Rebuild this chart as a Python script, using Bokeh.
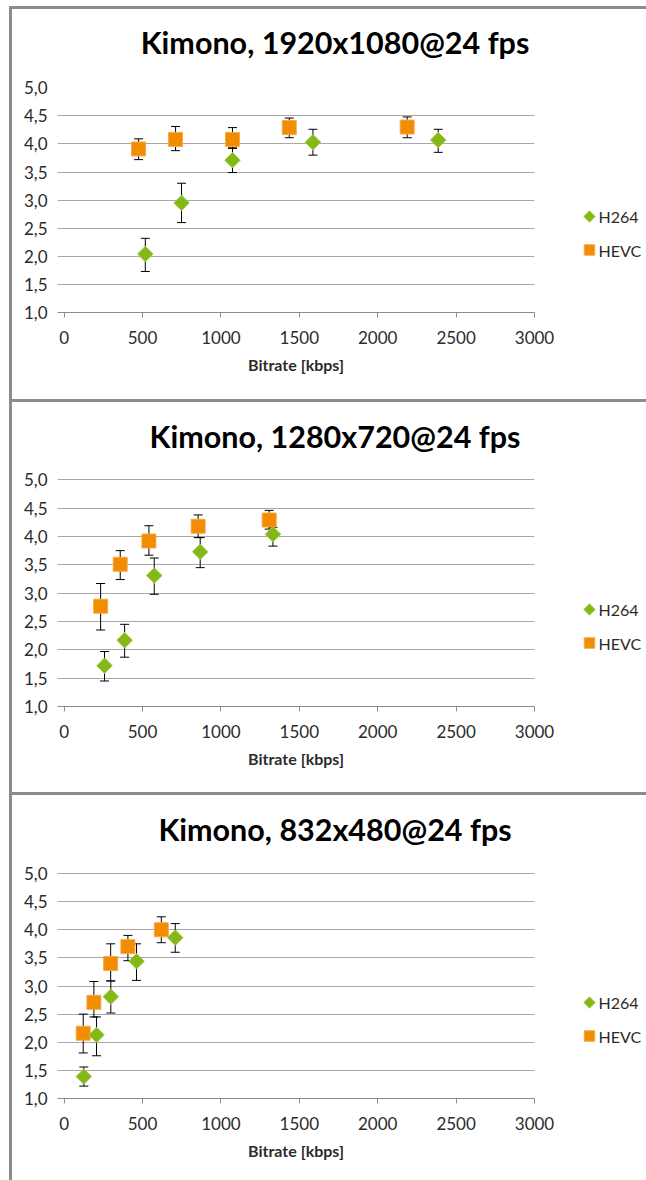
import numpy as np
from bokeh.plotting import figure
from bokeh.layouts import column, row
from bokeh.models import (ColumnDataSource, Range1d, FixedTicker, CustomJSTickFormatter,
                          Whisker, TeeHead, Label, Spacer)
from bokeh.embed import file_html
from bokeh.resources import INLINE

# ---------------- data ----------------
titles = ["Kimono, 1920x1080@24 fps", "Kimono, 1280x720@24 fps", "Kimono, 832x480@24 fps"]
series_names = ["H264", "HEVC"]
x_ticks = [0, 500, 1000, 1500, 2000, 2500, 3000]
y_ticks = [1.0, 1.5, 2.0, 2.5, 3.0, 3.5, 4.0, 4.5, 5.0]
x_label = "Bitrate [kbps]"

# 1920x1080
h264_1080_rate = [518, 749, 1074, 1587, 2386]
h264_1080_mos = [2.04, 2.95, 3.71, 4.03, 4.07]
h264_1080_lo = [1.73, 2.60, 3.49, 3.80, 3.85]
h264_1080_hi = [2.32, 3.30, 3.93, 4.26, 4.26]
hevc_1080_rate = [475, 711, 1074, 1436, 2188]
hevc_1080_mos = [3.91, 4.08, 4.08, 4.29, 4.30]
hevc_1080_lo = [3.72, 3.88, 3.92, 4.11, 4.11]
hevc_1080_hi = [4.09, 4.31, 4.29, 4.46, 4.48]

# 1280x720
h264_720_rate = [258, 386, 575, 868, 1332]
h264_720_mos = [1.72, 2.17, 3.31, 3.73, 4.04]
h264_720_lo = [1.45, 1.87, 2.98, 3.45, 3.83]
h264_720_hi = [1.97, 2.45, 3.62, 3.98, 4.16]
hevc_720_rate = [233, 358, 541, 855, 1308]
hevc_720_mos = [2.77, 3.51, 3.92, 4.18, 4.29]
hevc_720_lo = [2.35, 3.24, 3.67, 3.98, 4.13]
hevc_720_hi = [3.17, 3.75, 4.19, 4.38, 4.46]

# 832x480
h264_480_rate = [126, 207, 298, 462, 709]
h264_480_mos = [1.39, 2.13, 2.81, 3.44, 3.86]
h264_480_lo = [1.22, 1.76, 2.52, 3.10, 3.60]
h264_480_hi = [1.56, 2.45, 3.09, 3.75, 4.11]
hevc_480_rate = [122, 190, 297, 407, 620]
hevc_480_mos = [2.16, 2.71, 3.40, 3.70, 4.00]
hevc_480_lo = [1.81, 2.45, 3.09, 3.45, 3.77]
hevc_480_hi = [2.50, 3.08, 3.75, 3.90, 4.23]

# ---------------- style / layout ----------------
FONT = "Lato"
GREEN = "#84B816"
GREEN_EDGE = "#A0CB45"
ORANGE = "#F28C00"
ORANGE_EDGE = "#F7A94A"
GRID = "#a8a8a8"
AXIS = "#8c8c8c"
BORDER_COLOR = "#8c8c8c"
TEXT = "#2b2b2b"

CHART_W = 548          # chart canvas width (x 12..560)
LEGEND_W = 86          # legend canvas width (x 560..646)
LEFT = 45              # room for the y labels
RIGHT = 26             # room for the last x tick label
X_MIN = -42
LEG_MARK_X = 29
LEG_TEXT_X = 38
LEG_ROWS_Y = [207, 240.5]   # pixels below the canvas top


def make_chart(title, h_rate, h_mos, h_lo, h_hi, v_rate, v_mos, v_lo, v_hi,
               height, y5_px, y1_px, title_base_px, grid_ticks):
    frame_h = int(round(y1_px))
    px_per_y = (y1_px - y5_px) / 4.0
    y_top = 1.0 + frame_h / px_per_y

    p = figure(width=CHART_W, height=height,
               x_range=Range1d(X_MIN, 3000), y_range=Range1d(1, y_top),
               output_backend="svg", toolbar_location=None,
               min_border_left=LEFT, min_border_right=RIGHT,
               min_border_top=0, min_border_bottom=height - frame_h,
               outline_line_color=None, margin=0)

    p.xaxis.ticker = FixedTicker(ticks=x_ticks)
    p.xaxis.axis_label = x_label
    p.xaxis.axis_label_text_font = FONT
    p.xaxis.axis_label_text_font_style = "bold"
    p.xaxis.axis_label_text_font_size = "16px"
    p.xaxis.axis_label_text_color = TEXT
    p.xaxis.axis_label_standoff = 8
    p.xaxis.major_label_text_font = FONT
    p.xaxis.major_label_text_font_size = "17px"
    p.xaxis.major_label_text_color = TEXT
    p.xaxis.major_label_standoff = 13
    p.xaxis.axis_line_color = AXIS
    p.xaxis.major_tick_line_color = AXIS
    p.xaxis.major_tick_out = 5
    p.xaxis.major_tick_in = 0
    p.xaxis.minor_tick_line_color = None

    p.yaxis.ticker = FixedTicker(ticks=y_ticks)
    p.yaxis.formatter = CustomJSTickFormatter(code="return tick.toFixed(1).replace('.', ',');")
    p.yaxis.major_label_text_font = FONT
    p.yaxis.major_label_text_font_size = "17px"
    p.yaxis.major_label_text_color = TEXT
    p.yaxis.axis_line_color = None
    p.yaxis.major_tick_line_color = None
    p.yaxis.minor_tick_line_color = None
    p.yaxis.major_tick_out = 0
    p.yaxis.major_label_standoff = 10

    p.xgrid.visible = False
    p.ygrid.ticker = FixedTicker(ticks=grid_ticks)
    p.ygrid.grid_line_color = GRID
    p.ygrid.grid_line_width = 1

    src_h = ColumnDataSource(dict(x=h_rate, y=h_mos, lo=h_lo, hi=h_hi))
    src_v = ColumnDataSource(dict(x=v_rate, y=v_mos, lo=v_lo, hi=v_hi))

    for src in (src_v, src_h):
        p.add_layout(Whisker(source=src, base="x", lower="lo", upper="hi",
                             line_color="black", line_width=1,
                             upper_head=TeeHead(size=9, line_color="black", line_width=1),
                             lower_head=TeeHead(size=9, line_color="black", line_width=1)))

    p.scatter("x", "y", source=src_v, marker="square", size=14,
              fill_color=ORANGE, line_color=ORANGE_EDGE, line_width=1)
    p.scatter("x", "y", source=src_h, marker="square", angle=np.pi / 4, size=11,
              fill_color=GREEN, line_color=GREEN_EDGE, line_width=1)

    # title (middle of the text box sits ~0.387 em above the baseline)
    p.add_layout(Label(x=277.5, y=frame_h - (title_base_px - 11.8),
                       x_units="screen", y_units="screen",
                       text=title, text_font=FONT, text_font_style="bold",
                       text_font_size="30.5px", text_color="black",
                       text_align="center", text_baseline="middle"))
    return p, frame_h


def make_legend(height, frame_h):
    # the legend frame lines up with the chart frame (top at the canvas top)
    q = figure(width=LEGEND_W, height=height,
               x_range=Range1d(0, LEGEND_W), y_range=Range1d(frame_h, 0),
               x_axis_type=None, y_axis_type=None,
               output_backend="svg", toolbar_location=None,
               min_border_left=0, min_border_right=0, min_border_top=0,
               min_border_bottom=height - frame_h,
               outline_line_color=None, margin=0)
    q.xgrid.visible = False
    q.ygrid.visible = False
    q.scatter(x=[LEG_MARK_X], y=[LEG_ROWS_Y[0]], marker="square", angle=np.pi / 4, size=8,
              fill_color=GREEN, line_color=GREEN_EDGE, line_width=1)
    q.scatter(x=[LEG_MARK_X], y=[LEG_ROWS_Y[1]], marker="square", size=10.5,
              fill_color=ORANGE, line_color=ORANGE_EDGE, line_width=1)
    for name, yy in zip(series_names, LEG_ROWS_Y):
        q.add_layout(Label(x=LEG_TEXT_X, y=yy, text=name, text_font=FONT,
                           text_font_size="16px", text_color=TEXT,
                           text_align="left", text_baseline="middle"))
    return q


specs = [
    (titles[0], h264_1080_rate, h264_1080_mos, h264_1080_lo, h264_1080_hi,
     hevc_1080_rate, hevc_1080_mos, hevc_1080_lo, hevc_1080_hi,
     390, 77.9, 302.7, 44.3, [1.5, 2.0, 2.5, 3.0, 3.5, 4.0, 4.5]),
    (titles[1], h264_720_rate, h264_720_mos, h264_720_lo, h264_720_hi,
     hevc_720_rate, hevc_720_mos, hevc_720_lo, hevc_720_hi,
     390, 77.3, 304.0, 45.3, [1.5, 2.0, 2.5, 3.0, 3.5, 4.0, 4.5, 5.0]),
    (titles[2], h264_480_rate, h264_480_mos, h264_480_lo, h264_480_hi,
     hevc_480_rate, hevc_480_mos, hevc_480_lo, hevc_480_hi,
     385, 78.3, 303.3, 45.0, [1.5, 2.0, 2.5, 3.0, 3.5, 4.0, 4.5, 5.0]),
]


def hline():
    return Spacer(width=CHART_W + LEGEND_W, height=3, margin=0,
                  styles={"background-color": BORDER_COLOR})


stack = []
for s in specs:
    chart, fh = make_chart(*s)
    stack.append(hline())
    stack.append(row(chart, make_legend(s[9], fh), spacing=0, margin=0))

panels = column(*stack, spacing=0, margin=0)
vline = Spacer(width=3, height=1174, margin=0, styles={"background-color": BORDER_COLOR})
body = row(Spacer(width=9, height=10, margin=0), vline, panels, spacing=0, margin=0)
layout = column(Spacer(width=10, height=6, margin=0), body, spacing=0, margin=0)

open("out.html", "w").write(file_html(layout, INLINE))
